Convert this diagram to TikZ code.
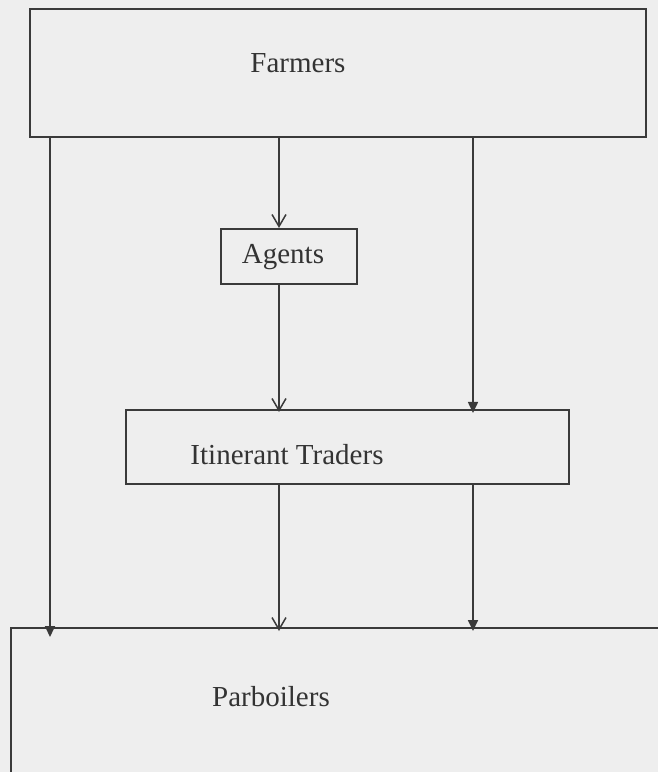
\documentclass[tikz,border=0pt]{standalone}
\usepackage{fontspec}
\setmainfont{Liberation Serif}
\usetikzlibrary{arrows.meta}
\definecolor{paper}{HTML}{EEEEEE}
\definecolor{linecol}{HTML}{3A3A3A}
\definecolor{textcol}{HTML}{333333}
\begin{document}
\begin{tikzpicture}[x=1pt,y=-1pt,
  box/.style={draw=linecol, line width=2.1pt, rectangle, inner sep=0pt},
  lbl/.style={text=textcol, font=\fontsize{29}{34}\selectfont, inner sep=0pt},
  openarr/.style={draw=linecol, line width=1.7pt,
    -{Straight Barb[length=12pt,width=14pt,line width=1.5pt]}},
  fillarr/.style={draw=linecol, line width=1.7pt,
    -{Triangle[length=11pt,width=10pt,fill=linecol]}}]
\useasboundingbox (0,0) rectangle (658,772);
\clip (0,0) rectangle (658,772);
\fill[paper] (0,0) rectangle (658,772);

% columns for connectors
\coordinate (colL) at (50,0);
\coordinate (colM) at (279,0);
\coordinate (colR) at (473,0);

% boxes
\node[box, minimum width=616pt, minimum height=128pt] (farmers) at (338,73) {};
\node[box, minimum width=136pt, minimum height=55pt] (agents) at (289,256.5) {};
\node[box, minimum width=443pt, minimum height=74pt] (traders) at (347.5,447) {};
\node[box, minimum width=700pt, minimum height=220pt, anchor=north west] (parb) at (10,627) {};

% labels
\node[lbl] (tfarmers) at (298,63) {Farmers};
\node[lbl] (tagents) at (283,257) {Agents};
\node[lbl] (ttraders) at (287,455) {Itinerant Traders};
\node[lbl] (tparb) at (271,697) {Parboilers};

% connectors
\draw[fillarr] (farmers.south -| colL) -- ([yshift=-10pt]parb.north -| colL);
\draw[openarr] (farmers.south -| colM) -- (agents.north -| colM);
\draw[fillarr] (farmers.south -| colR) -- ([yshift=-4pt]traders.north -| colR);
\draw[openarr] (agents.south -| colM) -- ([yshift=-3pt]traders.north -| colM);
\draw[openarr] (traders.south -| colM) -- ([yshift=-4pt]parb.north -| colM);
\draw[fillarr] (traders.south -| colR) -- ([yshift=-4pt]parb.north -| colR);
\end{tikzpicture}
\end{document}
